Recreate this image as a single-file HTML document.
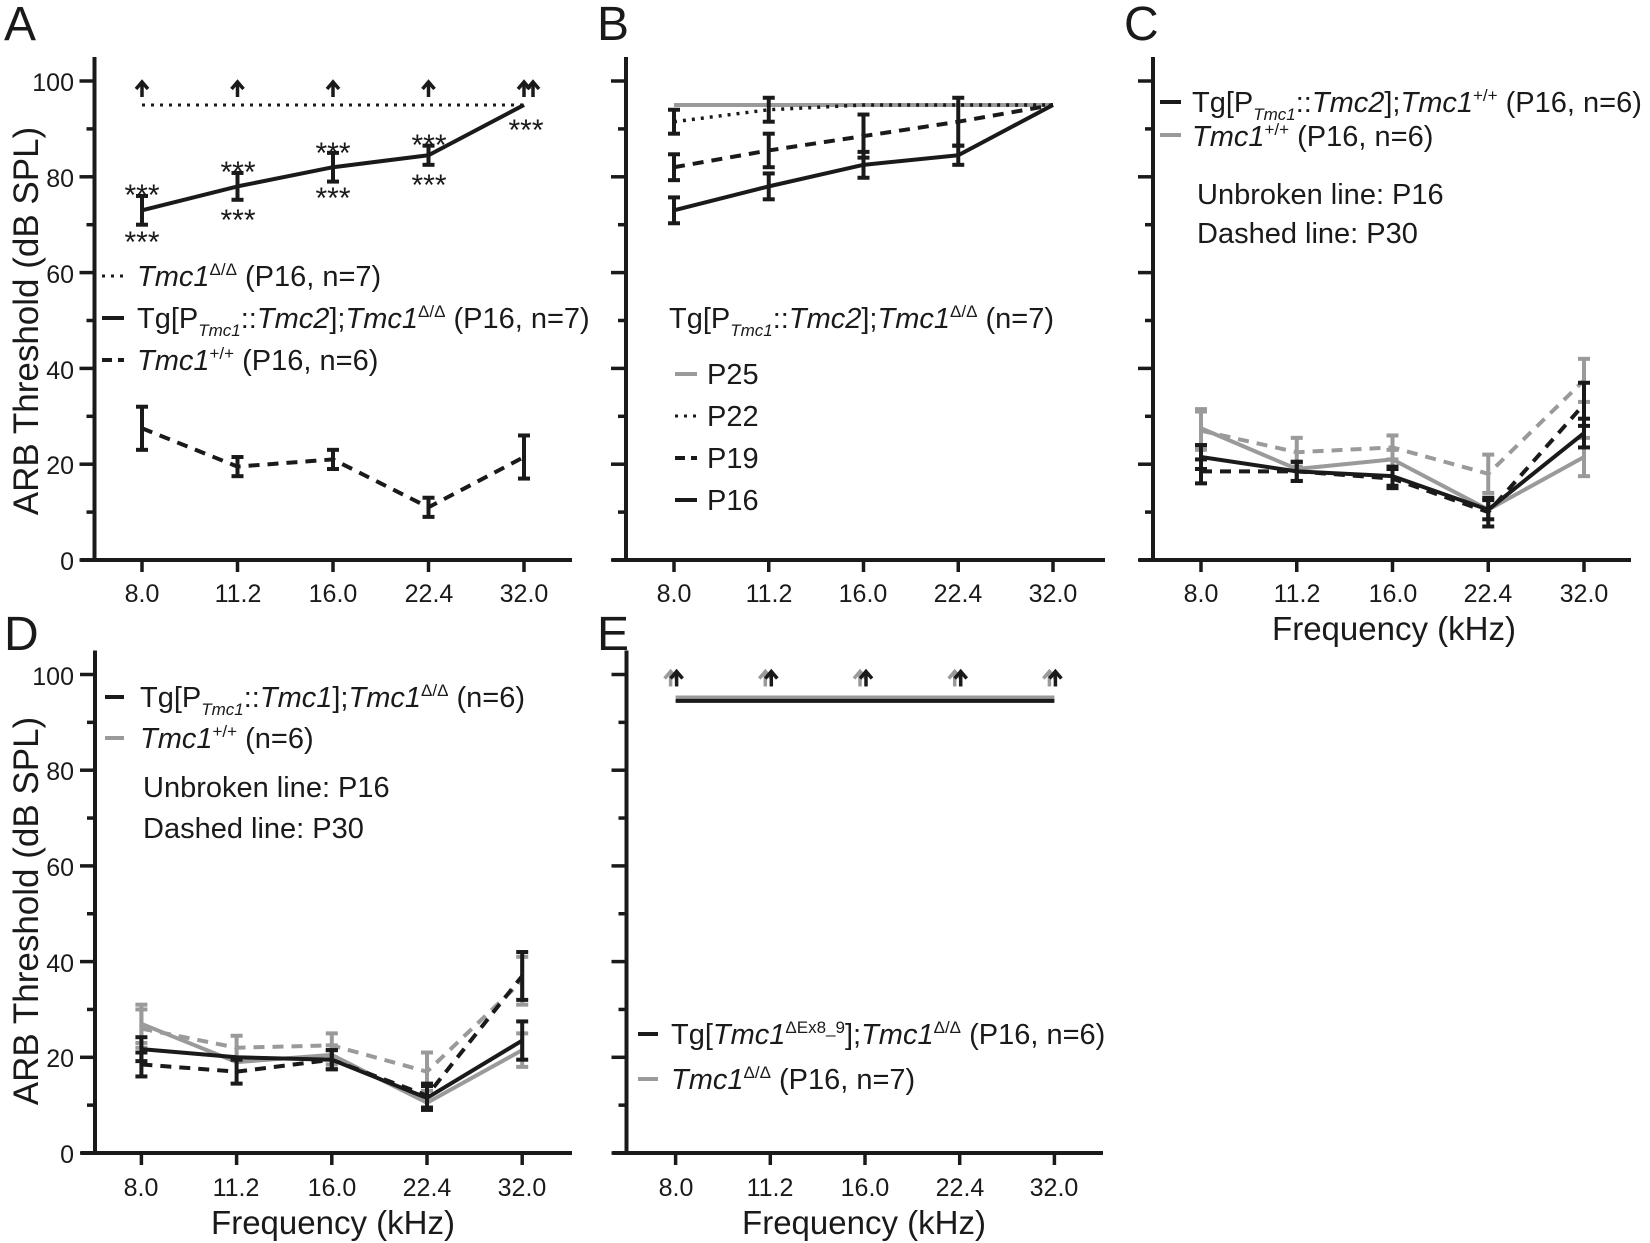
<!DOCTYPE html>
<html><head><meta charset="utf-8"><style>
html,body{margin:0;padding:0;background:#fff;}
svg{display:block;font-family:"Liberation Sans",Arial,sans-serif;}
text{fill:#1a1a1a;}
</style></head><body>
<svg id="s" width="1650" height="1243" viewBox="0 0 1650 1243" xmlns="http://www.w3.org/2000/svg">
<g id="g"></g>
<g font-size="48">
<text x="4" y="40">A</text>
<text x="597" y="40">B</text>
<text x="1124" y="40">C</text>
<text x="4" y="650">D</text>
<text x="597" y="650">E</text>
</g>
<g font-size="35">
<text transform="translate(38,321) rotate(-90)" text-anchor="middle">ARB Threshold (dB SPL)</text>
<text transform="translate(38,911) rotate(-90)" text-anchor="middle">ARB Threshold (dB SPL)</text>
</g>
<g font-size="33" text-anchor="middle">
<text x="1394" y="640">Frequency (kHz)</text>
<text x="333" y="1234">Frequency (kHz)</text>
<text x="864" y="1234">Frequency (kHz)</text>
</g>
<g font-size="25" text-anchor="end">
<text x="74" y="91">100</text><text x="74" y="187">80</text><text x="74" y="283">60</text><text x="74" y="379">40</text><text x="74" y="474">20</text><text x="74" y="570">0</text>
<text x="74" y="685">100</text><text x="74" y="780">80</text><text x="74" y="876">60</text><text x="74" y="972">40</text><text x="74" y="1067">20</text><text x="74" y="1163">0</text>
</g>
<g font-size="25" text-anchor="middle">
<text x="142" y="602">8.0</text><text x="238" y="602">11.2</text><text x="333" y="602">16.0</text><text x="429" y="602">22.4</text><text x="524" y="602">32.0</text>
<text x="674" y="602">8.0</text><text x="769" y="602">11.2</text><text x="863" y="602">16.0</text><text x="958" y="602">22.4</text><text x="1053" y="602">32.0</text>
<text x="1201" y="602">8.0</text><text x="1297" y="602">11.2</text><text x="1393" y="602">16.0</text><text x="1488" y="602">22.4</text><text x="1584" y="602">32.0</text>
<text x="141" y="1196">8.0</text><text x="236" y="1196">11.2</text><text x="332" y="1196">16.0</text><text x="427" y="1196">22.4</text><text x="522" y="1196">32.0</text>
<text x="676" y="1196">8.0</text><text x="770" y="1196">11.2</text><text x="865" y="1196">16.0</text><text x="960" y="1196">22.4</text><text x="1054" y="1196">32.0</text>
</g>
<g font-size="30" text-anchor="middle">
<text x="142" y="205">***</text><text x="142" y="252">***</text>
<text x="238" y="182">***</text><text x="238" y="230">***</text>
<text x="333" y="163">***</text><text x="333" y="208">***</text>
<text x="429" y="155">***</text><text x="429" y="195">***</text>
<text x="526" y="140">***</text>
</g>
<g font-size="29">
<text x="137" y="286"><tspan font-style="italic">Tmc1</tspan><tspan font-size="17" dy="-11">Δ/Δ</tspan><tspan dy="11"> (P16, n=7)</tspan></text>
<text x="137" y="328">Tg[P<tspan font-size="17" font-style="italic" dy="8">Tmc1</tspan><tspan dy="-8">::</tspan><tspan font-style="italic">Tmc2</tspan>];<tspan font-style="italic">Tmc1</tspan><tspan font-size="17" dy="-11">Δ/Δ</tspan><tspan dy="11"> (P16, n=7)</tspan></text>
<text x="137" y="370"><tspan font-style="italic">Tmc1</tspan><tspan font-size="17" dy="-11">+/+</tspan><tspan dy="11"> (P16, n=6)</tspan></text>

<text x="669" y="328">Tg[P<tspan font-size="17" font-style="italic" dy="8">Tmc1</tspan><tspan dy="-8">::</tspan><tspan font-style="italic">Tmc2</tspan>];<tspan font-style="italic">Tmc1</tspan><tspan font-size="17" dy="-11">Δ/Δ</tspan><tspan dy="11"> (n=7)</tspan></text>
<text x="707" y="384">P25</text>
<text x="707" y="426">P22</text>
<text x="707" y="468">P19</text>
<text x="707" y="510">P16</text>

<text x="1192" y="112">Tg[P<tspan font-size="17" font-style="italic" dy="8">Tmc1</tspan><tspan dy="-8">::</tspan><tspan font-style="italic">Tmc2</tspan>];<tspan font-style="italic">Tmc1</tspan><tspan font-size="17" dy="-11">+/+</tspan><tspan dy="11"> (P16, n=6)</tspan></text>
<text x="1192" y="146"><tspan font-style="italic">Tmc1</tspan><tspan font-size="17" dy="-11">+/+</tspan><tspan dy="11"> (P16, n=6)</tspan></text>
<text x="1197" y="204">Unbroken line: P16</text>
<text x="1197" y="243">Dashed line: P30</text>

<text x="140" y="707">Tg[P<tspan font-size="17" font-style="italic" dy="8">Tmc1</tspan><tspan dy="-8">::</tspan><tspan font-style="italic">Tmc1</tspan>];<tspan font-style="italic">Tmc1</tspan><tspan font-size="17" dy="-11">Δ/Δ</tspan><tspan dy="11"> (n=6)</tspan></text>
<text x="140" y="748"><tspan font-style="italic">Tmc1</tspan><tspan font-size="17" dy="-11">+/+</tspan><tspan dy="11"> (n=6)</tspan></text>
<text x="143" y="797">Unbroken line: P16</text>
<text x="143" y="838">Dashed line: P30</text>

<text x="671" y="1044">Tg[<tspan font-style="italic">Tmc1</tspan><tspan font-size="17" dy="-11">ΔEx8_9</tspan><tspan dy="11">];</tspan><tspan font-style="italic">Tmc1</tspan><tspan font-size="17" dy="-11">Δ/Δ</tspan><tspan dy="11"> (P16, n=6)</tspan></text>
<text x="671" y="1089"><tspan font-style="italic">Tmc1</tspan><tspan font-size="17" dy="-11">Δ/Δ</tspan><tspan dy="11"> (P16, n=7)</tspan></text>
</g>
</svg>
<script>
var NS="http://www.w3.org/2000/svg",G=document.getElementById("g");
function el(t,a){var e=document.createElementNS(NS,t);for(var k in a)e.setAttribute(k,a[k]);G.appendChild(e);return e;}
function line(x1,y1,x2,y2,c,w,d){var a={x1:x1,y1:y1,x2:x2,y2:y2,stroke:c||"#1a1a1a","stroke-width":w||3.5};if(d)a["stroke-dasharray"]=d;return el("line",a);}
var TOP=function(v){return 560-4.79*v},BOT=function(v){return 1153-4.785*v};
function axes(ax,Y,ticks,xend){
  line(ax,Y(100)-24,ax,Y(0)+1.7,"#1a1a1a",4);
  line(ax-14,Y(0),xend,Y(0),"#1a1a1a",4);
  for(var v=0;v<=100;v+=10){var maj=v%20==0;line(maj?ax-15:ax-8,Y(v),ax,Y(v),"#1a1a1a",3.5);}
  ticks.forEach(function(x){line(x,Y(0),x,Y(0)+12,"#1a1a1a",3.5);});
}
function series(xs,Y,vals,errs,c,w,d){
  var p="";for(var i=0;i<vals.length;i++)p+=(i?"L":"M")+xs[i]+","+Y(vals[i]);
  var a={d:p,fill:"none",stroke:c,"stroke-width":w,"stroke-linejoin":"round"};if(d)a["stroke-dasharray"]=d;el("path",a);
  if(errs)for(var i=0;i<vals.length;i++){if(!errs[i])continue;var x=xs[i],y1=Y(vals[i]+errs[i]),y2=Y(vals[i]-errs[i]);
    line(x,y1,x,y2,c,4);line(x-6,y1,x+6,y1,c,4);line(x-6,y2,x+6,y2,c,4);}
}
function arrow(x,yb,c){line(x,yb,x,yb-14,c,3.5);el("path",{d:"M"+(x-6)+","+(yb-8)+"L"+x+","+(yb-15)+"L"+(x+6)+","+(yb-8),fill:"none",stroke:c,"stroke-width":3.5});}
function xs(a,s){return [0,1,2,3,4].map(function(i){return a+s*i});}
var K="#1a1a1a",GR="#9a9a9a",DASH="11,8",DOT="3,6";
var XA=xs(142,95.5);axes(94.5,TOP,XA,572);
series(XA,TOP,[95,95,95,95,95],null,K,3,DOT);
series(XA,TOP,[73,78,82,84.5,95],[3,2.8,3,2,0],K,4);
series(XA,TOP,[27.5,19.5,21,11,21.5],[4.5,2,2,2,4.5],K,4,DASH);
XA.forEach(function(x){arrow(x,97,K)});arrow(533,97,K);
line(102,276,124,276,K,3,"3,6");line(102,318,124,318,K,4);line(102,360,124,360,K,4,"10,6");
var XB=xs(674,94.75);axes(626,TOP,XB,1105);
series(XB,TOP,[95,95,95,95,95],null,GR,4);
series(XB,TOP,[91.5,94,95,95,95],[2.5,2.5,0,0,0],K,3.5,DOT);
series(XB,TOP,[82,85.5,88.5,91.5,95],[2.7,3.5,4.5,5,0],K,4,DASH);
series(XB,TOP,[73,78,82.5,84.5,95],[2.7,2.7,2.7,2,0],K,4);
line(675,374,697,374,GR,4);line(675,416,697,416,K,3,"3,6");line(675,458,697,458,K,4,"10,6");line(675,500,697,500,K,4);
var XC=xs(1201,95.75);axes(1153,TOP,XC,1631);
series(XC,TOP,[27.5,19,21,10.5,21.5],[4,0,2,0,4],GR,4);
series(XC,TOP,[27,22.5,23.5,18,37.5],[4,3,2.5,4,4.5],GR,4,DASH);
series(XC,TOP,[18.5,18.5,17,10,32.5],[2.5,2,2,3,4.5],K,4,DASH);
series(XC,TOP,[21.5,18.5,17.5,10.5,26.5],[2.5,2,2,2,3],K,4);
line(1160,102,1181,102,K,4);line(1160,135,1181,135,GR,4);
var XD=xs(141.4,95.2);axes(95,BOT,XD,572);
series(XD,BOT,[27,19,20.5,10.5,21.5],[4,0,2,0,3.5],GR,4);
series(XD,BOT,[26,22,22.5,17,36],[4,2.5,2.5,4,5],GR,4,DASH);
series(XD,BOT,[18.5,17,19.5,12,37],[2.5,2.5,2,2.5,5],K,4,DASH);
series(XD,BOT,[21.7,20,19.5,11.5,23.5],[2.5,0,2,2.5,4],K,4);
line(105,697,124,697,K,4);line(105,738,124,738,GR,4);
var XE=xs(675.6,94.7);axes(626.5,BOT,XE,1103);
line(675.6,BOT(95.2),1054.4,BOT(95.2),GR,4);line(675.6,BOT(94.5),1054.4,BOT(94.5),K,4);
XE.forEach(function(x){arrow(x-5,BOT(97.5),GR);arrow(x+1,BOT(97.5),K);});
line(638,1034,658,1034,K,4);line(638,1079,658,1079,GR,4);
</script>
</body></html>
